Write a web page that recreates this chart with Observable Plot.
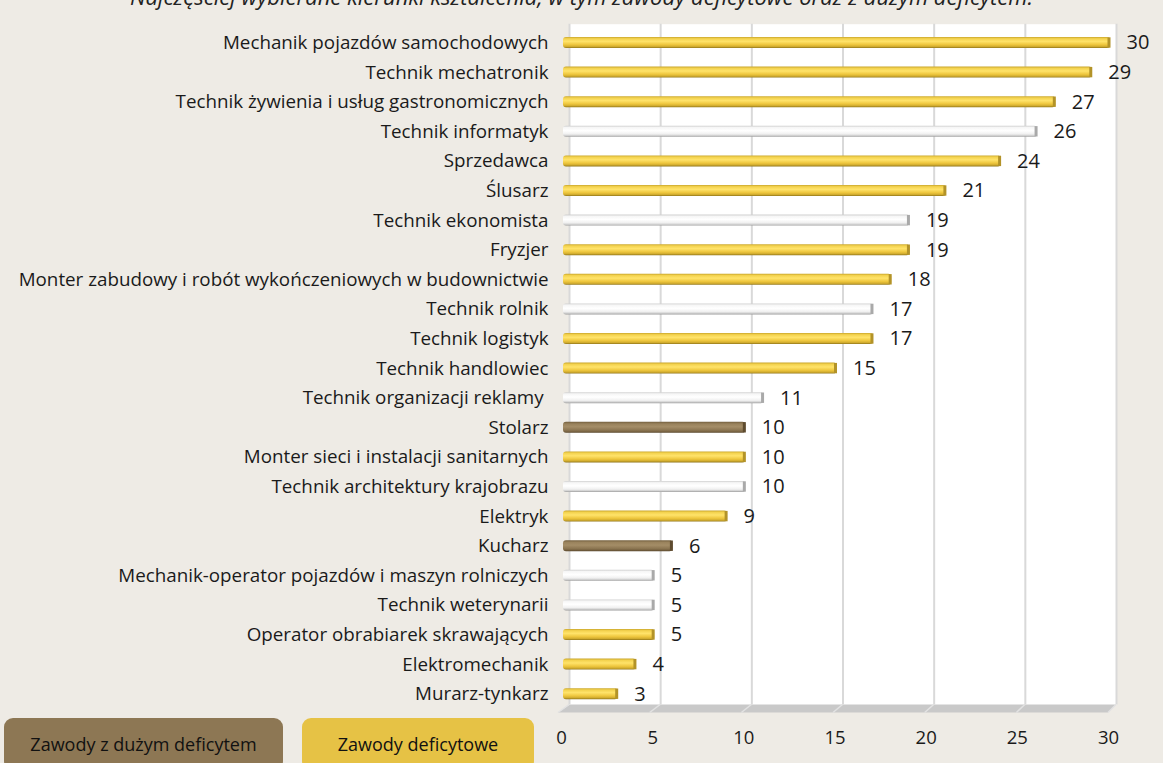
<!DOCTYPE html>
<html><head><meta charset="utf-8">
<script src="https://cdn.jsdelivr.net/npm/d3@7"></script>
<script src="https://cdn.jsdelivr.net/npm/@observablehq/plot@0.6"></script>
<style>
html,body{margin:0;padding:0;background:#EEEBE5;width:1163px;height:763px;overflow:hidden;font-family:"Open Sans",sans-serif;}
#wrap{position:relative;width:1163px;height:763px;}
#title{position:absolute;left:0;width:1163px;top:-15px;text-align:center;font-style:italic;font-size:22px;line-height:22px;color:#222;white-space:nowrap;}
.leg{position:absolute;top:718px;height:52px;border-radius:9px;display:flex;align-items:center;justify-content:center;font-size:18px;color:#111;box-sizing:border-box;}
</style></head><body><div id="wrap"></div>
<script>
const title = "Najczęściej wybierane kierunki kształcenia, w tym zawody deficytowe oraz z dużym deficytem.";
const categories = [
  "Mechanik pojazdów samochodowych",
  "Technik mechatronik",
  "Technik żywienia i usług gastronomicznych",
  "Technik informatyk",
  "Sprzedawca",
  "Ślusarz",
  "Technik ekonomista",
  "Fryzjer",
  "Monter zabudowy i robót wykończeniowych w budownictwie",
  "Technik rolnik",
  "Technik logistyk",
  "Technik handlowiec",
  "Technik organizacji reklamy\u00A0",
  "Stolarz",
  "Monter sieci i instalacji sanitarnych",
  "Technik architektury krajobrazu",
  "Elektryk",
  "Kucharz",
  "Mechanik-operator pojazdów i maszyn rolniczych",
  "Technik weterynarii",
  "Operator obrabiarek skrawających",
  "Elektromechanik",
  "Murarz-tynkarz"
];
const values = [30,29,27,26,24,21,19,19,18,17,17,15,11,10,10,10,9,6,5,5,5,4,3];
const groups = ["gold","gold","gold","white","gold","gold","white","gold","gold","white","gold","gold","white","brown","gold","white","gold","brown","white","white","gold","gold","gold"];
const legendLabels = ["Zawody z dużym deficytem","Zawody deficytowe"];
const xTicks = [0,5,10,15,20,25,30];

const data = categories.map((name,i)=>({name, value: values[i], group: groups[i]}));
const fills = {gold:"url(#gGold)", white:"url(#gWhite)", brown:"url(#gBrown)"};
const caps = {gold:"#B39328", white:"#A9A9A9", brown:"#5E4B2F"};

const barMarks = [];
for (const g of ["white","brown","gold"]) {
  const sub = data.filter(d=>d.group===g);
  barMarks.push(Plot.barX(sub,{x:"value", y:"name", fill:fills[g], insetTop:9.3, insetBottom:9.3, rx:3}));
  barMarks.push(Plot.tickX(sub,{x:"value", y:"name", stroke:caps[g], strokeWidth:3, insetTop:9.6, insetBottom:9.6, dx:-1.5}));
}

const plot = Plot.plot({
  width:1163, height:763,
  marginLeft:563, marginRight:53, marginTop:27.7, marginBottom:54.5,
  style:{background:"transparent", fontFamily:"'Open Sans', sans-serif", overflow:"visible", color:"#1a1a1a"},
  x:{domain:[0,30]},
  y:{domain:categories, padding:0, round:false},
  marks:[
    Plot.frame({fill:"#fff", stroke:null, dx:6, dy:-4}),
    Plot.ruleX(xTicks, {stroke:"#D9D9D9", strokeWidth:2, dx:6, dy:-4}),
    ...barMarks,
    Plot.text(data,{x:"value", y:"name", text:d=>String(d.value), textAnchor:"start", dx:16, fontSize:20, fill:"#1a1a1a"}),
    Plot.axisY({tickSize:0, tickPadding:15, fontSize:18.8, label:null, fill:"#1a1a1a"}),
    Plot.axisX({ticks:xTicks, tickSize:0, tickPadding:22, fontSize:18.5, label:null, dx:-2, fill:"#1a1a1a"})
  ]
});

// gradients + 3D floor derived from the scales
const NS = "http://www.w3.org/2000/svg";
const defs = document.createElementNS(NS,"defs");
function grad(id, stops){
  const lg = document.createElementNS(NS,"linearGradient");
  lg.setAttribute("id",id); lg.setAttribute("x1","0"); lg.setAttribute("y1","0"); lg.setAttribute("x2","0"); lg.setAttribute("y2","1");
  for (const [o,c] of stops){ const s=document.createElementNS(NS,"stop"); s.setAttribute("offset",o); s.setAttribute("stop-color",c); lg.appendChild(s); }
  defs.appendChild(lg);
}
grad("gGold",[[0,"#C9A62C"],[0.15,"#F3D24E"],[0.4,"#FFE36A"],[0.7,"#EEC63D"],[0.88,"#CFAA2E"],[1,"#8E7318"]]);
grad("gWhite",[[0,"#CFCFCF"],[0.15,"#F6F6F6"],[0.45,"#FFFFFF"],[0.75,"#F0F0F0"],[0.9,"#CDCDCD"],[1,"#9A9A9A"]]);
grad("gBrown",[[0,"#74603F"],[0.2,"#9A835D"],[0.45,"#A48D67"],[0.75,"#8C7652"],[0.9,"#776241"],[1,"#54432A"]]);
plot.insertBefore(defs, plot.firstChild);

const xs = plot.scale("x");
const x0 = xs.apply(0), x30 = xs.apply(30);
const yb = 763 - 54.5 - 4, yf = yb + 8;
const floor = document.createElementNS(NS,"g");
const poly = document.createElementNS(NS,"polygon");
poly.setAttribute("points", `${x0+7},${yb} ${x30+6},${yb} ${x30-2},${yf} ${x0-5},${yf}`);
poly.setAttribute("fill","#C9C9C9");
floor.appendChild(poly);
for (const v of xTicks){
  const xb = xs.apply(v)+6;
  const xf = (x0-5) + (v/30)*((x30-2)-(x0-5));
  const l = document.createElementNS(NS,"line");
  l.setAttribute("x1",xb); l.setAttribute("y1",yb); l.setAttribute("x2",xf); l.setAttribute("y2",yf);
  l.setAttribute("stroke","#E2E2E2"); l.setAttribute("stroke-width","1.5");
  floor.appendChild(l);
}
const fr = plot.querySelector('[aria-label="frame"]');
if (fr && fr.nextSibling) plot.insertBefore(floor, fr.nextSibling); else plot.appendChild(floor);

const wrap = document.getElementById("wrap");
wrap.appendChild(plot);
const t = document.createElement("div"); t.id="title"; t.textContent = title; wrap.appendChild(t);
const legColors = ["#8D7754","#E6C245"];
const legPos = [[4,279],[302,232]];
legendLabels.forEach((lab,i)=>{
  const d = document.createElement("div"); d.className="leg"; d.textContent=lab;
  d.style.left = legPos[i][0]+"px"; d.style.width = legPos[i][1]+"px"; d.style.background = legColors[i];
  wrap.appendChild(d);
});
</script>
</body></html>
